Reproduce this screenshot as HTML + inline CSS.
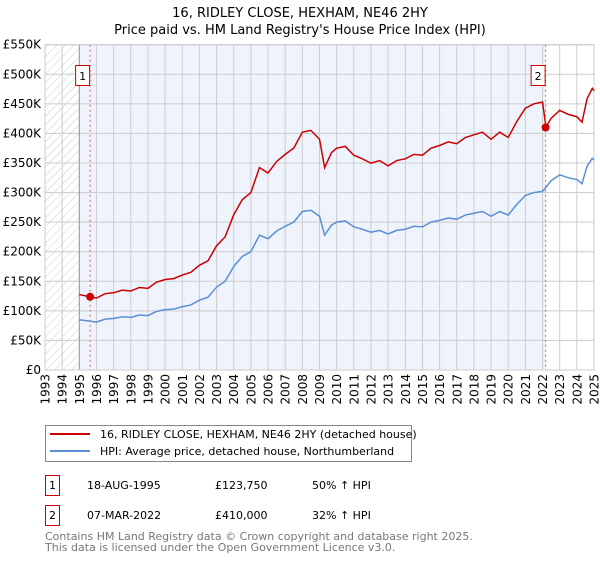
<!DOCTYPE html>
<html><head><meta charset="utf-8"><style>
body{margin:0;background:#fff;width:600px;height:560px;overflow:hidden;font-family:"DejaVu Sans","Liberation Sans",sans-serif}
svg text{font-family:"DejaVu Sans","Liberation Sans",sans-serif}
</style></head><body>
<svg id="c" width="600" height="560">
<text x="300" y="17" text-anchor="middle" font-size="13">16, RIDLEY CLOSE, HEXHAM, NE46 2HY</text>
<text x="300" y="34" text-anchor="middle" font-size="13">Price paid vs. HM Land Registry's House Price Index (HPI)</text>
<defs><pattern id="h" width="6" height="6" patternUnits="userSpaceOnUse" patternTransform="rotate(45)"><line x1="0" y1="0" x2="0" y2="6" stroke="#ccc" stroke-width="1"/></pattern></defs>
<g id="plot"></g>
<g>
<rect x="45.5" y="425.5" width="366" height="36" fill="#fff" stroke="#888"/>
<line x1="50" y1="434" x2="90" y2="434" stroke="#cc0000" stroke-width="2"/>
<text x="100" y="438" font-size="11">16, RIDLEY CLOSE, HEXHAM, NE46 2HY (detached house)</text>
<line x1="50" y1="451" x2="90" y2="451" stroke="#5b8fd4" stroke-width="2"/>
<text x="100" y="455" font-size="11">HPI: Average price, detached house, Northumberland</text>
</g>
<g font-size="11">
<rect x="45.5" y="475.5" width="14" height="20" fill="#fff" stroke="#cc0000"/><text x="52.5" y="489" text-anchor="middle">1</text>
<text x="87" y="489">18-AUG-1995</text><text x="215" y="489">£123,750</text><text x="312" y="489">50% ↑ HPI</text>
<rect x="45.5" y="505.5" width="14" height="20" fill="#fff" stroke="#cc0000"/><text x="52.5" y="519" text-anchor="middle">2</text>
<text x="87" y="519">07-MAR-2022</text><text x="215" y="519">£410,000</text><text x="312" y="519">32% ↑ HPI</text>
</g>
<text x="45" y="540" font-size="11" fill="#777">Contains HM Land Registry data © Crown copyright and database right 2025.</text>
<text x="45" y="551" font-size="11" fill="#777">This data is licensed under the Open Government Licence v3.0.</text>
</svg>
<script>
const years=[1995,1995.5,1996,1996.5,1997,1997.5,1998,1998.5,1999,1999.5,2000,2000.5,2001,2001.5,2002,2002.5,2003,2003.5,2004,2004.5,2005,2005.5,2006,2006.5,2007,2007.5,2008,2008.5,2009,2009.3,2009.7,2010,2010.5,2011,2011.5,2012,2012.5,2013,2013.5,2014,2014.5,2015,2015.5,2016,2016.5,2017,2017.5,2018,2018.5,2019,2019.5,2020,2020.5,2021,2021.5,2022,2022.2,2022.5,2023,2023.5,2024,2024.3,2024.6,2024.9,2025];
const hpi=[85,83,81,86,87,90,89,93,92,99,102,103,107,110,118,123,140,150,175,192,200,228,222,235,243,250,268,270,260,228,245,250,252,242,238,233,236,230,236,238,243,242,250,253,257,255,262,265,268,260,268,262,280,295,300,302,309,320,330,325,322,315,345,358,355];
const sales=[{t:1995.63,p:123750,l:"1"},{t:2022.18,p:410000,l:"2"}];
const yTicks=[0,50,100,150,200,250,300,350,400,450,500,550];
const xTicks=[1993,1994,1995,1996,1997,1998,1999,2000,2001,2002,2003,2004,2005,2006,2007,2008,2009,2010,2011,2012,2013,2014,2015,2016,2017,2018,2019,2020,2021,2022,2023,2024,2025];
const L=45,R=594,T=44.7,B=370;
const X=t=>L+(t-1993)/32*(R-L), Y=v=>B-v/550*(B-T);
const NS="http://www.w3.org/2000/svg", g=document.getElementById('plot');
function mk(n,a){const e=document.createElementNS(NS,n);for(const k in a)e.setAttribute(k,a[k]);g.appendChild(e);return e;}
let e=mk('rect',{x:L,y:T,width:X(1995)-L,height:B-T,fill:'url(#h)'});


e=mk('rect',{x:X(1995),y:T,width:X(sales[1].t)-X(1995),height:B-T,fill:'#eef3fc'});


yTicks.forEach(v=>{mk('line',{x1:L,x2:R,y1:Y(v),y2:Y(v),stroke:'#ccc'});
 const t=mk('text',{x:L-4,y:Y(v)+4,'text-anchor':'end','font-size':12});t.textContent=v?'£'+v+'K':'£0';
 
 });
xTicks.forEach(y=>{mk('line',{x1:X(y),x2:X(y),y1:T,y2:B,stroke:'#ccc'});
 const x=X(y)+4.5, yy=B+4;
 const t=mk('text',{x:x,y:yy,'text-anchor':'end','font-size':12,transform:'rotate(-90 '+x+' '+yy+')'});t.textContent=y;
 
 });
mk('line',{x1:X(1995),x2:X(1995),y1:T,y2:B,stroke:'#999'});
mk('rect',{x:L,y:T,width:R-L,height:B-T,fill:'none',stroke:'#ccc'});
function hpiAt(t){for(let i=1;i<years.length;i++)if(t<=years[i]){const f=(t-years[i-1])/(years[i]-years[i-1]);return hpi[i-1]+f*(hpi[i]-hpi[i-1]);}return hpi[hpi.length-1];}
const r1=sales[0].p/1000/hpiAt(sales[0].t), r2=sales[1].p/1000/hpiAt(sales[1].t);
let bp='',rp='';
years.forEach((t,i)=>{bp+=(i?'L':'M')+X(t)+','+Y(hpi[i]);const r=t<sales[1].t?r1:r2;rp+=(i?'L':'M')+X(t)+','+Y(hpi[i]*r);});
e=mk('path',{d:bp,fill:'none',stroke:'#5b8fd4','stroke-width':1.5});


e=mk('path',{d:rp,fill:'none',stroke:'#cc0000','stroke-width':1.5});


sales.forEach(s=>{mk('line',{x1:X(s.t),x2:X(s.t),y1:T,y2:B,stroke:'#e06060','stroke-dasharray':'2,3'});
 const c=mk('circle',{cx:X(s.t),cy:Y(s.p/1000),r:4,fill:'#cc0000'});
 
 
 mk('rect',{x:X(s.t)-14.5,y:65.5,width:14,height:20,fill:'#fff',stroke:'#cc0000'});
 const t=mk('text',{x:X(s.t)-7.5,y:80,'text-anchor':'middle','font-size':11});t.textContent=s.l;
 
 });
</script>
</body></html>
